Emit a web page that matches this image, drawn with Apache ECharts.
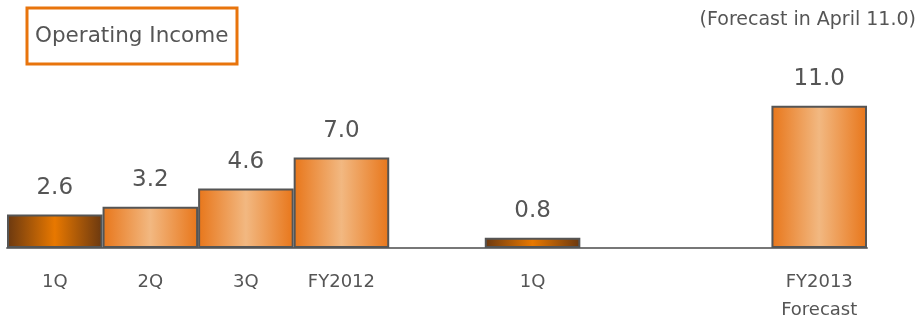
<!DOCTYPE html>
<html>
<head>
<meta charset="utf-8">
<script src="https://cdn.jsdelivr.net/npm/echarts@6/dist/echarts.min.js"></script>
<style>
  html, body { margin: 0; padding: 0; background: #fff; }
  #chart { width: 917px; height: 317px; }
</style>
</head>
<body>
<div id="chart"></div>
<script>
// categories (empty slots are gaps between the periods)
const categories = ['1Q', '2Q', '3Q', 'FY2012', '', '1Q', '', '', 'FY2013\nForecast']
const income = [2.6, 3.2, 4.6, 7.0, '-', 0.8, '-', '-', 11.0]
const titleText = 'Operating Income'
const noteText = '(Forecast in April 11.0)'

const chart = echarts.init(document.getElementById('chart'))

// light orange bars, darker ones for the 1Q bars
const lightFill = new echarts.graphic.LinearGradient(0, 0, 1, 0, [
  { offset: 0, color: '#e8761a' },
  { offset: 0.5, color: '#f2b881' },
  { offset: 1, color: '#e8761a' }
])
const darkFill = new echarts.graphic.LinearGradient(0, 0, 1, 0, [
  { offset: 0, color: '#6a3810' },
  { offset: 0.5, color: '#e87800' },
  { offset: 1, color: '#6a3810' }
])

const font = '"DejaVu Sans", sans-serif'

chart.setOption({
  animation: false,
  grid: { left: 7, right: 50, top: 67, bottom: 69, outerBoundsMode: 'none' },
  graphic: [
    {
      type: 'rect',
      shape: { x: 27, y: 8, width: 210, height: 56 },
      style: { fill: '#fff', stroke: '#e8740c', lineWidth: 3 }
    },
    {
      type: 'text',
      left: 35, top: 25,
      style: { text: titleText, fill: '#555', fontSize: 21.5, fontFamily: font }
    },
    {
      type: 'text',
      right: 1, top: 11,
      style: { text: noteText, fill: '#555', fontSize: 19, fontFamily: font }
    }
  ],
  xAxis: {
    type: 'category',
    data: categories,
    axisLine: { lineStyle: { color: '#777', width: 2 } },
    axisTick: { show: false },
    axisLabel: {
      color: '#555',
      fontSize: 18,
      fontFamily: font,
      lineHeight: 28,
      margin: 20,
      interval: 0
    }
  },
  yAxis: { type: 'value', min: 0, max: 14, show: false },
  series: [{
    type: 'bar',
    barCategoryGap: '0%',
    data: income.map((v, i) => ({
      value: v,
      itemStyle: { color: categories[i] === '1Q' ? darkFill : lightFill }
    })),
    itemStyle: { borderColor: '#555', borderWidth: 2 },
    label: {
      show: true,
      position: 'top',
      distance: 15,
      color: '#555',
      fontSize: 23,
      fontFamily: font,
      formatter: p => p.value.toFixed(1)
    }
  }]
})
</script>
</body>
</html>
